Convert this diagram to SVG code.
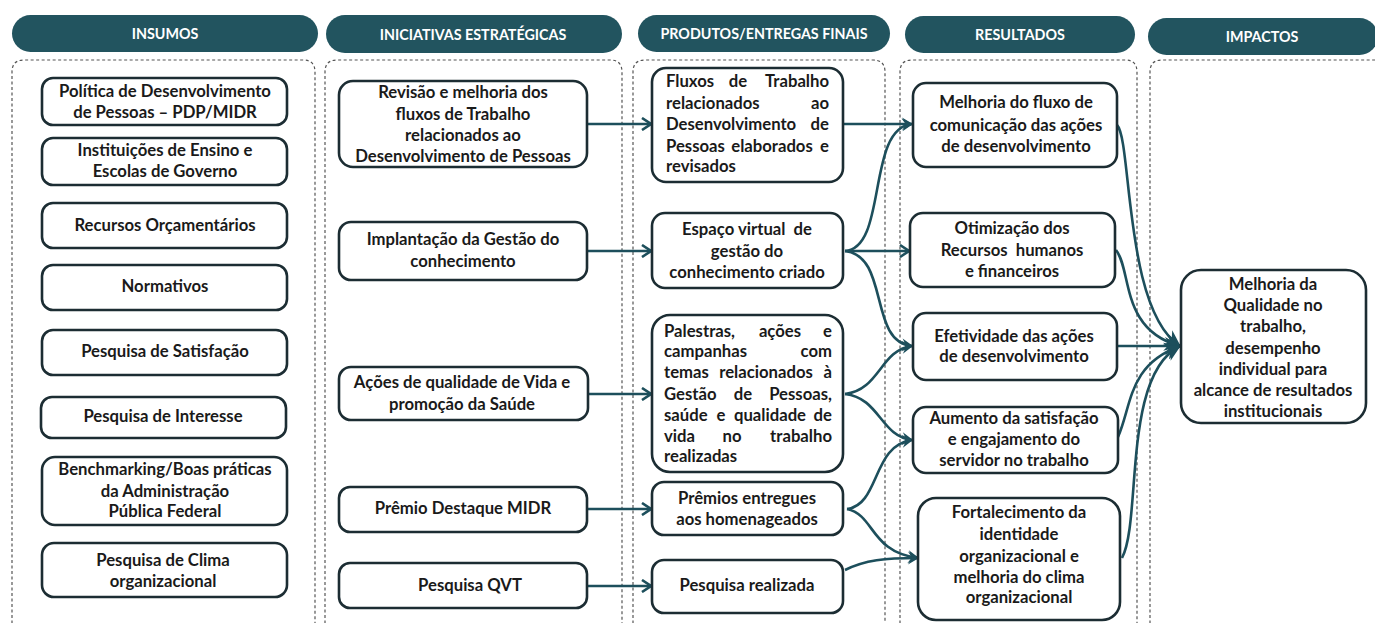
<svg xmlns="http://www.w3.org/2000/svg" width="1375" height="623" viewBox="0 0 1375 623">
<defs>
<style>
.hdr{fill:#22545f}
.ht{fill:#ffffff;font-family:Lato,"Liberation Sans",sans-serif;font-weight:bold;font-size:14.3px;text-anchor:middle}
.col{fill:none;stroke:#555;stroke-width:1.2;stroke-dasharray:3 2.5}
.box{fill:#ffffff;stroke:#1c2d33;stroke-width:2.6}
.t{fill:#1a1a1a;font-family:Lato,"Liberation Sans",sans-serif;font-weight:bold;font-size:16.7px;text-anchor:middle}
.l{text-anchor:start}
.r{text-anchor:end}
.c{fill:none;stroke:#1d4f5c;stroke-width:2.6}
.o{marker-end:url(#open)}
.s{marker-end:url(#swept)}
</style>
<marker id="open" viewBox="0 0 12 14" refX="11" refY="7" markerWidth="12" markerHeight="14" markerUnits="userSpaceOnUse" orient="auto">
<polyline points="2,1 11,7 2,13" fill="none" stroke="#1d4f5c" stroke-width="2.6"/>
</marker>
<marker id="swept" viewBox="0 0 12 14" refX="11" refY="7" markerWidth="12" markerHeight="14" markerUnits="userSpaceOnUse" orient="auto">
<path d="M1,0.5 L12,7 L1,13.5 L5,7 Z" fill="#1d4f5c"/>
</marker>
<marker id="big" viewBox="0 0 16 18" refX="15" refY="9" markerWidth="16" markerHeight="18" markerUnits="userSpaceOnUse" orient="auto">
<path d="M0,0 L16,9 L0,18 L5,9 Z" fill="#1d4f5c"/>
</marker>
</defs>

<g id="headers">
<rect class="hdr" x="12" y="15" width="306" height="37" rx="18.5"/>
<text class="ht" x="165" y="38.5">INSUMOS</text>
<rect class="hdr" x="326" y="15" width="296" height="38" rx="19"/>
<text class="ht" x="473" y="39.5">INICIATIVAS ESTRATÉGICAS</text>
<rect class="hdr" x="638" y="15" width="252" height="37" rx="18.5"/>
<text class="ht" x="764" y="38.5">PRODUTOS/ENTREGAS FINAIS</text>
<rect class="hdr" x="905" y="16" width="230" height="37" rx="18.5"/>
<text class="ht" x="1020" y="39.5">RESULTADOS</text>
<rect class="hdr" x="1148" y="18" width="230" height="37" rx="18.5"/>
<text class="ht" x="1262" y="41.5">IMPACTOS</text>
</g>

<g id="columns">
<path class="col" d="M12,640 V72 Q12,60 24,60 H303 Q315,60 315,72 V640"/>
<path class="col" d="M325,640 V72 Q325,60 337,60 H610 Q622,60 622,72 V640"/>
<path class="col" d="M633,640 V72 Q633,60 645,60 H873 Q885,60 885,72 V640"/>
<path class="col" d="M900,640 V72 Q900,60 912,60 H1125 Q1137,60 1137,72 V640"/>
<path class="col" d="M1150,640 V72 Q1150,60 1162,60 H1390"/>
</g>

<g id="connectors">
<path class="c o" d="M588,124 H651"/>
<path class="c o" d="M588,251 H651"/>
<path class="c o" d="M588,394 H651"/>
<path class="c o" d="M588,509 H651"/>
<path class="c o" d="M588,586 H651"/>

<path class="c s" d="M843,124 H912"/>
<path class="c s" d="M845,251 C888,248 866,128 912,124"/>
<path class="c o" d="M845,251 H909"/>
<path class="c s" d="M845,251 C890,256 868,342 912,346"/>
<path class="c s" d="M845,394 C880,390 880,350 912,346"/>
<path class="c s" d="M845,394 C880,398 880,436 912,440"/>
<path class="c s" d="M847,509 C880,505 872,445 912,440"/>
<path class="c s" d="M847,509 C875,515 870,552 918,558"/>
<path class="c s" d="M845,570 C865,560 885,558 918,558"/>

<path class="c" style="marker-end:url(#big)" d="M1117,125 C1132,140 1124,310 1180,346"/>
<path class="c" style="marker-end:url(#big)" d="M1116,250 C1132,270 1120,330 1180,346"/>
<path class="c" style="marker-end:url(#big)" d="M1117,346 H1180"/>
<path class="c" style="marker-end:url(#big)" d="M1118,437 C1132,405 1128,365 1180,346"/>
<path class="c" style="marker-end:url(#big)" d="M1122,558 C1142,520 1122,375 1180,346"/>
</g>

<g id="n_politica"><rect class="box" x="42" y="78" width="245" height="47" rx="11"/><text class="t" x="165" y="97">Política de Desenvolvimento</text><text class="t" x="165" y="118">de Pessoas – PDP/MIDR</text></g>
<g id="n_instituicoes"><rect class="box" x="42" y="138" width="245" height="47" rx="11"/><text class="t" x="165" y="156">Instituições de Ensino e</text><text class="t" x="165" y="177">Escolas de Governo</text></g>
<g id="n_recursos"><rect class="box" x="42" y="203" width="245" height="45" rx="11"/><text class="t" x="165" y="231">Recursos Orçamentários</text></g>
<g id="n_normativos"><rect class="box" x="42" y="265" width="245" height="45" rx="11"/><text class="t" x="165" y="292">Normativos</text></g>
<g id="n_satisfacao"><rect class="box" x="42" y="330" width="245" height="45" rx="11"/><text class="t" x="165" y="357">Pesquisa de Satisfação</text></g>
<g id="n_interesse"><rect class="box" x="41" y="397" width="245" height="41" rx="11"/><text class="t" x="163" y="422">Pesquisa de Interesse</text></g>
<g id="n_benchmarking"><rect class="box" x="42" y="457" width="245" height="68" rx="13"/><text class="t" x="165" y="475">Benchmarking/Boas práticas</text><text class="t" x="165" y="497">da Administração</text><text class="t" x="165" y="517">Pública Federal</text></g>
<g id="n_clima"><rect class="box" x="42" y="543" width="245" height="54" rx="12"/><text class="t" x="163" y="566">Pesquisa de Clima</text><text class="t" x="163" y="587">organizacional</text></g>

<g id="n_revisao"><rect class="box" x="339" y="81" width="248" height="86" rx="14"/><text class="t" x="463" y="98">Revisão e melhoria dos</text><text class="t" x="463" y="120">fluxos de Trabalho</text><text class="t" x="463" y="141">relacionados ao</text><text class="t" x="463" y="162">Desenvolvimento de Pessoas</text></g>
<g id="n_implantacao"><rect class="box" x="339" y="222" width="248" height="58" rx="12"/><text class="t" x="463" y="245">Implantação da Gestão do</text><text class="t" x="463" y="267">conhecimento</text></g>
<g id="n_acoes"><rect class="box" x="339" y="367" width="249" height="53" rx="12"/><text class="t" x="462" y="388">Ações de qualidade de Vida e</text><text class="t" x="462" y="410">promoção da Saúde</text></g>
<g id="n_premio"><rect class="box" x="339" y="487" width="248" height="45" rx="11"/><text class="t" x="463" y="514">Prêmio Destaque MIDR</text></g>
<g id="n_qvt"><rect class="box" x="339" y="563" width="248" height="45" rx="11"/><text class="t" x="470" y="591">Pesquisa QVT</text></g>

<g id="n_fluxos"><rect class="box" x="652" y="68" width="191" height="114" rx="14"/>
<text class="t l" x="666" y="87">Fluxos</text><text class="t" x="738" y="87">de</text><text class="t r" x="829" y="87">Trabalho</text>
<text class="t l" x="666" y="109">relacionados</text><text class="t r" x="829" y="109">ao</text>
<text class="t l" x="666" y="130">Desenvolvimento</text><text class="t r" x="829" y="130">de</text>
<text class="t l" x="666" y="152">Pessoas</text><text class="t" x="772" y="152">elaborados</text><text class="t r" x="829" y="152">e</text>
<text class="t l" x="666" y="172">revisados</text></g>
<g id="n_espaco"><rect class="box" x="652" y="213" width="191" height="75" rx="13"/><text class="t" x="747" y="235" xml:space="preserve">Espaço virtual  de</text><text class="t" x="747" y="257">gestão do</text><text class="t" x="747" y="278">conhecimento criado</text></g>
<g id="n_palestras"><rect class="box" x="652" y="315" width="191" height="157" rx="18"/>
<text class="t l" x="664" y="337">Palestras,</text><text class="t" x="780" y="337">ações</text><text class="t r" x="832" y="337">e</text>
<text class="t l" x="664" y="357">campanhas</text><text class="t r" x="832" y="357">com</text>
<text class="t l" x="664" y="378">temas</text><text class="t" x="766" y="378">relacionados</text><text class="t r" x="832" y="378">à</text>
<text class="t l" x="664" y="400">Gestão</text><text class="t" x="743" y="400">de</text><text class="t r" x="832" y="400">Pessoas,</text>
<text class="t l" x="664" y="421">saúde</text><text class="t" x="721" y="421">e</text><text class="t" x="770" y="421">qualidade</text><text class="t r" x="832" y="421">de</text>
<text class="t l" x="664" y="442">vida</text><text class="t" x="732" y="442">no</text><text class="t r" x="832" y="442">trabalho</text>
<text class="t l" x="664" y="462">realizadas</text></g>
<g id="n_premios"><rect class="box" x="652" y="482" width="191" height="53" rx="12"/><text class="t" x="747" y="504">Prêmios entregues</text><text class="t" x="747" y="525">aos homenageados</text></g>
<g id="n_pesquisa_realizada"><rect class="box" x="652" y="560" width="191" height="53" rx="12"/><text class="t" x="747" y="591">Pesquisa realizada</text></g>

<g id="n_melhoria_fluxo"><rect class="box" x="913" y="83" width="204" height="84" rx="13"/><text class="t" x="1016" y="108">Melhoria do fluxo de</text><text class="t" x="1016" y="131">comunicação das ações</text><text class="t" x="1016" y="152">de desenvolvimento</text></g>
<g id="n_otimizacao"><rect class="box" x="910" y="213" width="205" height="74" rx="13"/><text class="t" x="1012" y="234">Otimização dos</text><text class="t" x="1012" y="256" xml:space="preserve">Recursos  humanos</text><text class="t" x="1012" y="277">e financeiros</text></g>
<g id="n_efetividade"><rect class="box" x="913" y="313" width="204" height="67" rx="13"/><text class="t" x="1014" y="342">Efetividade das ações</text><text class="t" x="1014" y="362">de desenvolvimento</text></g>
<g id="n_aumento"><rect class="box" x="913" y="407" width="205" height="66" rx="13"/><text class="t" x="1014" y="424">Aumento da satisfação</text><text class="t" x="1014" y="445">e engajamento do</text><text class="t" x="1014" y="466">servidor no trabalho</text></g>
<g id="n_fortalecimento"><rect class="box" x="918" y="498" width="202" height="122" rx="18"/><text class="t" x="1019" y="518">Fortalecimento da</text><text class="t" x="1019" y="540">identidade</text><text class="t" x="1019" y="562">organizacional e</text><text class="t" x="1019" y="583">melhoria do clima</text><text class="t" x="1019" y="603">organizacional</text></g>

<g id="n_impacto"><rect class="box" x="1181" y="270" width="185" height="153" rx="20"/><text class="t" x="1273" y="290">Melhoria da</text><text class="t" x="1273" y="311">Qualidade no</text><text class="t" x="1273" y="332">trabalho,</text><text class="t" x="1273" y="354">desempenho</text><text class="t" x="1273" y="375">individual para</text><text class="t" x="1273" y="396">alcance de resultados</text><text class="t" x="1273" y="417">institucionais</text></g>
</svg>
